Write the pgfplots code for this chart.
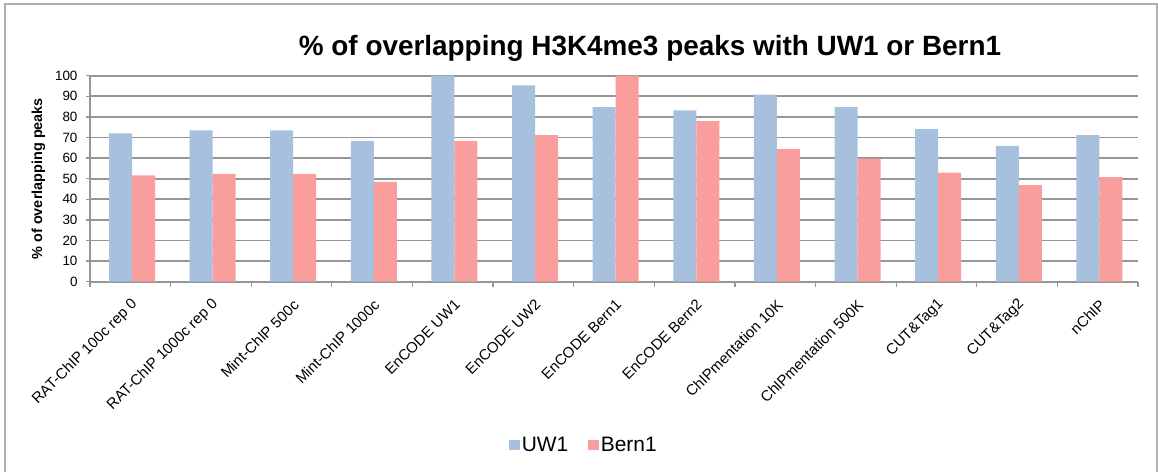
\documentclass[border=0pt]{standalone}
\usepackage{pgfplots}
\pgfplotsset{compat=1.18}
\usepackage{fontspec}
\setmainfont{Liberation Sans}
\definecolor{uwblue}{RGB}{167,192,222}
\definecolor{bernpink}{RGB}{249,158,156}
\definecolor{gridgray}{RGB}{150,150,150}
\definecolor{framegray}{RGB}{175,175,175}
\begin{document}
\begin{tikzpicture}
\path[use as bounding box] (0bp,0bp) rectangle (1158bp,472bp);
\draw[framegray, line width=1.5bp] (5bp,-5bp) rectangle (1157bp,468bp);
\node[anchor=base, font=\fontsize{28}{32}\selectfont\bfseries] at (650bp,416bp) {\% of overlapping H3K4me3 peaks with UW1 or Bern1};
\begin{axis}[
  at={(90bp,190.3bp)}, anchor=south west,
  scale only axis, width=1048bp, height=206bp,
  ymin=0, ymax=100, xmin=-0.5, xmax=12.5,
  ybar, bar width=23bp,
  axis x line*=bottom, axis y line*=left,
  axis line style={draw=gridgray, line width=1.9bp, -},
  ymajorgrids, grid style={draw=gridgray, line width=1.9bp},
  ytick={0,10,...,100},
  xtick={0,...,12},
  minor xtick={-0.5,0.5,...,12.5},
  major x tick style={draw=none},
  minor x tick style={draw=gridgray, line width=1.3bp},
  y tick style={draw=gridgray, line width=1.3bp},
  tick align=outside,
  major tick length=4bp, minor tick length=5bp,
  xticklabels={RAT-ChIP 100c rep 0, RAT-ChIP 1000c rep 0, Mint-ChIP 500c, Mint-ChIP 1000c, EnCODE UW1, EnCODE UW2, EnCODE Bern1, EnCODE Bern2, ChIPmentation 10K, ChIPmentation 500K, CUT\&Tag1, CUT\&Tag2, nChIP},
  xticklabel style={rotate=45, anchor=east, font=\fontsize{15}{17}\selectfont, yshift=-15bp, xshift=-5bp},
  yticklabel style={font=\fontsize{13.5}{16}\selectfont, xshift=-5bp},
  /pgf/number format/assume math mode=true,
  ylabel={\bfseries \% of overlapping peaks},
  ylabel style={font=\fontsize{14.5}{16}\selectfont},
  ylabel shift=3bp,
  legend style={at={(0.4714,-0.793)}, anchor=center, draw=none, fill=none,
    legend columns=2, font=\fontsize{21}{24}\selectfont,
    /tikz/every even column/.append style={column sep=18bp}},
  legend image code/.code={\fill[#1, draw=none] (0bp,-5bp) rectangle (10.5bp,5.5bp);},
]
\addplot[fill=uwblue, draw=none, bar shift=-9.8bp] coordinates {
(0,72.0) (1,73.5) (2,73.5) (3,68.3) (4,100) (5,95.3) (6,84.7) (7,83.2) (8,90.8) (9,84.7) (10,74.1) (11,65.9) (12,71.1)};
\addplot[fill=bernpink, draw=none, bar shift=13.2bp] coordinates {
(0,51.6) (1,52.3) (2,52.3) (3,48.5) (4,68.3) (5,71.1) (6,100) (7,78.0) (8,64.3) (9,59.7) (10,52.9) (11,46.9) (12,50.8)};
\legend{UW1, Bern1}
\end{axis}
\end{tikzpicture}
\end{document}
